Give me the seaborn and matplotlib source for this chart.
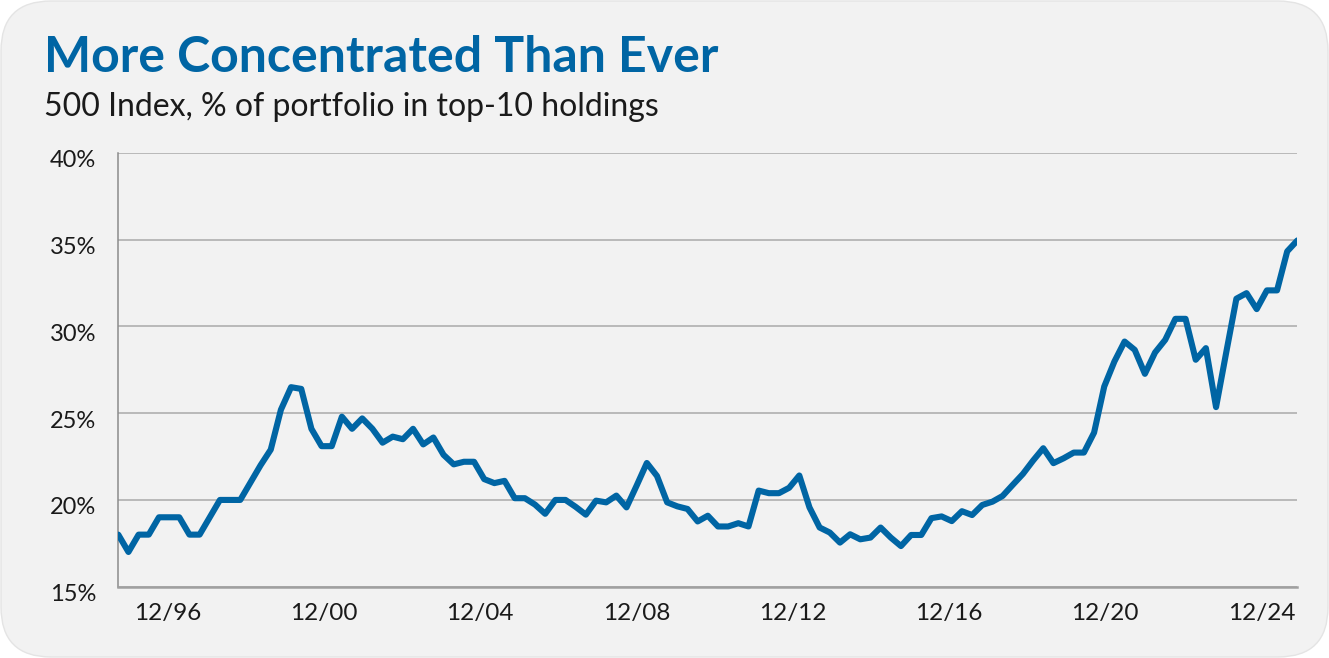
import numpy as np
import pandas as pd
import matplotlib
matplotlib.use("Agg")
import matplotlib.pyplot as plt
import matplotlib.dates as mdates
import matplotlib.transforms as mtransforms
from matplotlib.patches import FancyBboxPatch
from matplotlib.ticker import FuncFormatter
import seaborn as sns

# ------------------------------------------------------------
# DATA: % of 500 Index portfolio in top-10 holdings
# ------------------------------------------------------------
START_DATE = "1995-09-30"
END_DATE = "2025-12-01"

top10_share = [
    18.0, 17.0, 18.0, 18.0, 19.0, 19.0, 19.0, 18.0, 18.0, 19.0,
    20.0, 20.0, 20.0, 21.0, 22.0, 22.9, 25.2, 26.5, 26.4, 24.1,
    23.1, 23.1, 24.8, 24.1, 24.7, 24.1, 23.3, 23.65, 23.5, 24.1,
    23.2, 23.6, 22.6, 22.05, 22.2, 22.2, 21.2, 20.97, 21.1, 20.1,
    20.1, 19.73, 19.2, 20.0, 20.0, 19.6, 19.15, 19.96, 19.86, 20.25,
    19.57, 20.83, 22.13, 21.38, 19.86, 19.63, 19.48, 18.76, 19.09, 18.47,
    18.47, 18.66, 18.47, 20.54, 20.39, 20.39, 20.7, 21.41, 19.57, 18.41,
    18.12, 17.54, 18.02, 17.73, 17.83, 18.41, 17.83, 17.34, 17.98, 17.98,
    18.95, 19.05, 18.78, 19.35, 19.13, 19.71, 19.9, 20.23, 20.87, 21.5,
    22.27, 22.98, 22.12, 22.4, 22.73, 22.73, 23.88, 26.54, 27.98, 29.13,
    28.65, 27.27, 28.5, 29.23, 30.44, 30.44, 28.08, 28.75, 25.35, 28.5,
    31.6, 31.92, 31.0, 32.08, 32.08, 34.33, 34.96,
]

tick_dates = ["1996-12-31", "2000-12-31", "2004-12-31", "2008-12-31",
              "2012-12-31", "2016-12-31", "2020-12-31", "2024-12-31"]
y_ticks = [15, 20, 25, 30, 35, 40]

TITLE = "More Concentrated Than Ever"
SUBTITLE = "500 Index, % of portfolio in top-10 holdings"

# ------------------------------------------------------------
# STYLE
# ------------------------------------------------------------
BLUE = "#0065a4"
BG = "#f2f2f2"
GRID = "#a9a9a9"
TEXT = "#1a1a1a"

sns.set_style("white")
plt.rcParams["font.family"] = ["Lato", "DejaVu Sans"]

df = pd.DataFrame({
    "date": pd.date_range(START_DATE, END_DATE, periods=len(top10_share)),
    "share": top10_share,
})

fig = plt.figure(figsize=(13.29, 6.58), dpi=100)
fig.patch.set_facecolor("white")

# rounded grey card behind everything
card = FancyBboxPatch((0.01, 0.01), 13.27, 6.56,
                      boxstyle="round,pad=0,rounding_size=0.5",
                      transform=fig.dpi_scale_trans,
                      facecolor=BG, edgecolor="#e4e4e4", linewidth=1, zorder=-5)
fig.patches.append(card)

ax = fig.add_axes([0.089, 0.1084, 0.8872, 0.6591])
ax.set_zorder(2)
ax.patch.set_alpha(0)

sns.lineplot(data=df, x="date", y="share", ax=ax, color=BLUE,
             linewidth=4.4, solid_capstyle="round", zorder=3)

ax.set_xlim(df["date"].iloc[0], df["date"].iloc[-1])
ax.set_ylim(15, 40)
ax.set_yticks(y_ticks)
ax.yaxis.set_major_formatter(FuncFormatter(lambda v, p: f"{v:.0f}%"))
ax.set_xticks(pd.to_datetime(tick_dates))
ax.xaxis.set_major_formatter(mdates.DateFormatter("%m/%y"))

ax.grid(True, axis="y", color=GRID, linewidth=1.1)
ax.set_axisbelow(True)
ax.tick_params(axis="both", length=0, colors=TEXT)
ax.tick_params(axis="y", pad=16, labelsize=17)
ax.tick_params(axis="x", pad=12, labelsize=17.5)

# y labels sit a touch below their gridlines in the original
shift_down = mtransforms.ScaledTranslation(0, -0.06, fig.dpi_scale_trans)
for lab in ax.get_yticklabels():
    lab.set_transform(lab.get_transform() + shift_down)

for side in ["top", "right"]:
    ax.spines[side].set_visible(False)
ax.spines["left"].set_color("#8c8c8c")
ax.spines["left"].set_linewidth(1.1)
ax.spines["bottom"].set_color("#a0a0a0")
ax.spines["bottom"].set_linewidth(1.8)

ax.set_xlabel("")
ax.set_ylabel("")

fig.text(0.033, 0.891, TITLE, fontsize=36, fontweight="bold", color=BLUE,
         ha="left", va="baseline")
fig.text(0.033, 0.823, SUBTITLE, fontsize=23, color=TEXT,
         ha="left", va="baseline")

fig.savefig("out.png", dpi=100, facecolor="white")
